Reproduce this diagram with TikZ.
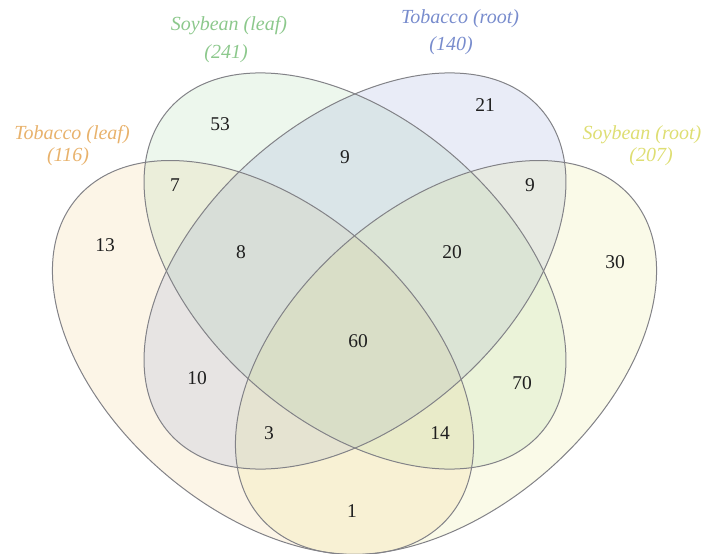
\documentclass[tikz,border=0pt]{standalone}
\usepackage{fontspec}
\setmainfont{Liberation Serif}
\definecolor{colA}{RGB}{240,195,115}
\definecolor{colB}{RGB}{150,205,150}
\definecolor{colC}{RGB}{125,145,210}
\definecolor{colD}{RGB}{225,225,120}
\definecolor{labA}{RGB}{232,178,108}
\definecolor{labB}{RGB}{140,200,140}
\definecolor{labC}{RGB}{120,140,205}
\definecolor{labD}{RGB}{222,222,115}
\definecolor{edgegray}{RGB}{130,130,135}
\begin{document}
\begin{tikzpicture}[x=1pt,y=1pt,
  setfill/.style={fill opacity=0.17},
  outline/.style={draw=edgegray, line width=1pt},
  num/.style={font=\fontsize{19.5}{22}\selectfont, text=black!88},
  lab/.style={font=\fontsize{20}{23}\selectfont\itshape}]
\useasboundingbox (0,0) rectangle (702,-554);
\coordinate (cenA) at (263,-357.5);
\coordinate (cenB) at (355,-271);
\coordinate (cenC) at (355,-271);
\coordinate (cenD) at (446,-357.5);
% fills
\fill[colA, setfill, shift={(cenA)}, rotate=-40.7] (0,0) ellipse [x radius=245pt, y radius=152pt];
\fill[colB, setfill, shift={(cenB)}, rotate=-41] (0,0) ellipse [x radius=246.5pt, y radius=151.5pt];
\fill[colC, setfill, shift={(cenC)}, rotate=41] (0,0) ellipse [x radius=246.5pt, y radius=151.5pt];
\fill[colD, setfill, shift={(cenD)}, rotate=40.7] (0,0) ellipse [x radius=245pt, y radius=152pt];
% outlines
\draw[outline, shift={(cenA)}, rotate=-40.7] (0,0) ellipse [x radius=245pt, y radius=152pt];
\draw[outline, shift={(cenB)}, rotate=-41] (0,0) ellipse [x radius=246.5pt, y radius=151.5pt];
\draw[outline, shift={(cenC)}, rotate=41] (0,0) ellipse [x radius=246.5pt, y radius=151.5pt];
\draw[outline, shift={(cenD)}, rotate=40.7] (0,0) ellipse [x radius=245pt, y radius=152pt];
% set labels
\node[lab, text=labB] (labelB) at (229,-26) {Soybean (leaf)};
\node[lab, text=labB] (countB) at (226,-54) {(241)};
\node[lab, text=labC] (labelC) at (460,-19) {Tobacco (root)};
\node[lab, text=labC] (countC) at (451,-46) {(140)};
\node[lab, text=labA] (labelA) at (72,-135) {Tobacco (leaf)};
\node[lab, text=labA] (countA) at (68,-157) {(116)};
\node[lab, text=labD] (labelD) at (642,-135) {Soybean (root)};
\node[lab, text=labD] (countD) at (651,-157) {(207)};
% region counts
\node[num] (r53) at (220,-124) {53};
\node[num] (r21) at (485,-105) {21};
\node[num] (r7) at (175,-185) {7};
\node[num] (r9a) at (345,-157) {9};
\node[num] (r9b) at (530,-185) {9};
\node[num] (r13) at (105,-245) {13};
\node[num] (r8) at (241,-252) {8};
\node[num] (r20) at (452,-252) {20};
\node[num] (r30) at (615,-262) {30};
\node[num] (r60) at (358,-341) {60};
\node[num] (r10) at (197,-378) {10};
\node[num] (r70) at (522,-383) {70};
\node[num] (r3) at (269,-433) {3};
\node[num] (r14) at (440,-433) {14};
\node[num] (r1) at (352,-511) {1};
\end{tikzpicture}
\end{document}
